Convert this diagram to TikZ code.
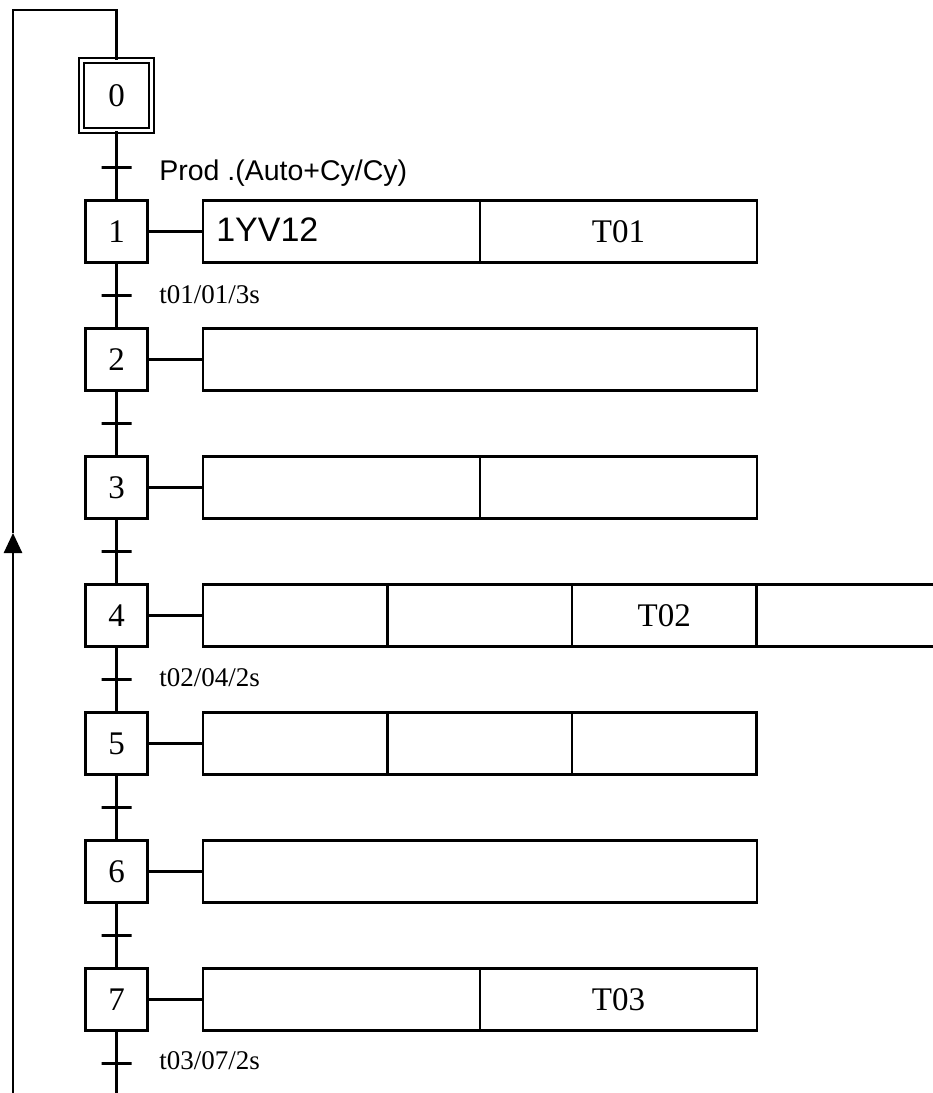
\documentclass[tikz,border=0pt]{standalone}
\usepackage{fontspec}
\setmainfont{Liberation Serif}
\setsansfont{Liberation Sans}
\usetikzlibrary{positioning,arrows.meta}

\begin{document}
\begin{tikzpicture}[
  x=1pt, y=-1pt,
  line width=2.6pt,
  stepbox/.style={draw=black, line width=2.6pt, minimum width=62pt, minimum height=62pt, inner sep=0pt, font=\fontsize{33}{33}\selectfont},
  initbox/.style={stepbox, double, double distance=2.6pt, minimum width=70pt, minimum height=70pt, line width=1.8pt},
  trans/.style={draw=black, line width=2.6pt, minimum width=30pt, minimum height=0pt, inner sep=0pt, outer sep=0pt},
  half/.style={draw=black, line width=2.4pt, minimum width=277pt, minimum height=62pt, inner sep=0pt, outer sep=0pt, font=\fontsize{33}{33}\selectfont},
  full/.style={half, minimum width=554pt},
  quart/.style={half, minimum width=184.5pt},
  cond/.style={anchor=west, inner sep=0pt, font=\fontsize{27}{27}\selectfont},
  arr/.style={-{Triangle[length=20pt, width=18pt]}, line width=2.6pt}
]
\useasboundingbox (0,0) rectangle (933,1093);

%% ---------- steps ----------
\node[initbox] (s0) at (116.5,95.5)  {0};
\node[stepbox] (s1) at (116.5,231.5) {1};
\node[stepbox] (s2) at (116.5,359.5) {2};
\node[stepbox] (s3) at (116.5,487.5) {3};
\node[stepbox] (s4) at (116.5,615.5) {4};
\node[stepbox] (s5) at (116.5,743.5) {5};
\node[stepbox] (s6) at (116.5,871.5) {6};
\node[stepbox] (s7) at (116.5,999.5) {7};

%% ---------- transitions ----------
\node[trans] (t1) at (116.5,167.5)  {};
\node[trans] (t2) at (116.5,295.5)  {};
\node[trans] (t3) at (116.5,423.5)  {};
\node[trans] (t4) at (116.5,551.5)  {};
\node[trans] (t5) at (116.5,679.5)  {};
\node[trans] (t6) at (116.5,807.5)  {};
\node[trans] (t7) at (116.5,935.5)  {};
\node[trans] (t8) at (116.5,1063.5) {};

\node[cond, font=\sffamily\fontsize{28.5}{28.5}\selectfont] (c1) at (158,173) {Prod .(Auto+Cy/Cy)};
\node[cond] (c2) at (158,295)  {t01/01/3s};
\node[cond] (c5) at (158,678)  {t02/04/2s};
\node[cond] (c8) at (158,1061) {t03/07/2s};

% spine
\draw (s0) -- (t1) -- (s1) -- (t2) -- (s2) -- (t3) -- (s3) -- (t4) -- (s4)
      -- (t5) -- (s5) -- (t6) -- (s6) -- (t7) -- (s7) -- (t8);
\coordinate (spineend) at (116.5,1093);
\draw (t8) -- (spineend);

%% ---------- actions ----------
\node[half, anchor=west] (a1) at (203,231.5) {};
\node[anchor=west, inner sep=0pt, font=\sffamily\fontsize{34}{34}\selectfont] (a1txt) at (215,229.5) {1YV12};
\node[half, right=0pt of a1] (a1b) {T01};

\node[full, anchor=west] (a2) at (203,359.5) {};

\node[half, anchor=west] (a3) at (203,487.5) {};
\node[half, right=0pt of a3] (a3b) {};

\node[quart, anchor=west] (a4) at (203,615.5) {};
\node[quart, right=0pt of a4] (a4b) {};
\node[quart, right=0pt of a4b] (a4c) {T02};
\node[quart, right=0pt of a4c] (a4d) {};

\node[quart, anchor=west] (a5) at (203,743.5) {};
\node[quart, right=0pt of a5] (a5b) {};
\node[quart, right=0pt of a5b] (a5c) {};

\node[full, anchor=west] (a6) at (203,871.5) {};

\node[half, anchor=west] (a7) at (203,999.5) {};
\node[half, right=0pt of a7] (a7b) {T03};

\draw (s1.east) -- (a1.west);
\draw (s2.east) -- (a2.west);
\draw (s3.east) -- (a3.west);
\draw (s4.east) -- (a4.west);
\draw (s5.east) -- (a5.west);
\draw (s6.east) -- (a6.west);
\draw (s7.east) -- (a7.west);

%% ---------- loop back to step 0 ----------
\coordinate (loopstart) at (13,1093);
\coordinate (looparrow) at (13,533);
\coordinate (looptop)   at (13,10);
\draw[arr] (loopstart) -- (looparrow);
\draw (looparrow) -- (looptop) -| (s0.north);

\end{tikzpicture}
\end{document}
